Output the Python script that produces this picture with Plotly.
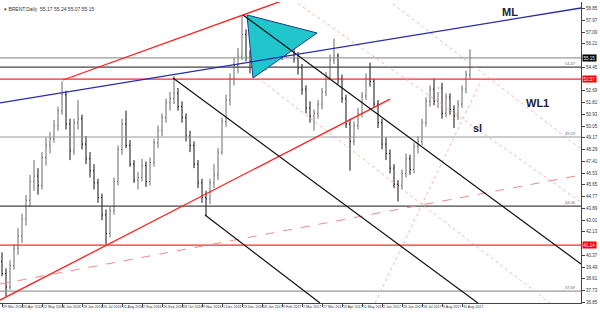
import plotly.graph_objects as go

# ---------------- data ----------------
opens = [39.9,39.0,38.0,39.6,40.9,41.8,43.1,44.5,45.9,46.3,45.6,47.7,48.6,49.1,50.1,51.2,52.4,50.2,48.2,50.3,
         50.6,48.7,47.6,46.7,45.8,44.7,43.4,42.0,43.7,45.9,48.3,50.2,48.6,47.2,46.0,46.2,47.1,45.9,47.3,48.8,
         49.7,50.7,51.8,52.1,52.5,51.5,50.7,49.3,48.6,47.2,45.8,44.7,44.6,45.8,46.4,48.1,50.4,52.0,53.6,54.6,
         55.3,56.9,55.2,54.9,55.9,56.1,55.0,55.4,56.4,55.4,56.6,55.5,56.2,56.0,55.1,54.4,52.8,51.4,50.8,51.0,
         51.7,52.6,53.8,55.0,55.3,53.6,52.1,50.2,48.9,50.1,51.0,52.3,53.6,53.4,51.7,50.3,48.7,48.0,46.9,45.7,
         45.6,46.5,47.6,46.8,48.5,48.9,50.3,51.9,52.8,51.9,52.9,51.0,52.2,51.3,50.8,51.7,52.8,53.9]
highs = [40.6,39.4,40.0,41.2,42.4,43.5,44.9,46.4,47.5,46.9,48.1,49.2,49.6,50.5,51.5,53.4,52.7,50.6,50.6,52.0,
         50.9,49.3,48.1,47.2,46.1,45.0,43.8,44.0,46.2,48.6,50.6,51.2,49.0,47.5,46.6,47.6,47.4,47.7,49.1,50.1,
         51.0,52.1,52.6,53.8,52.9,51.9,51.0,49.7,48.9,47.5,46.1,45.2,46.1,47.2,48.4,50.7,52.4,54.0,55.2,55.9,
         58.3,57.3,55.7,56.3,56.9,56.4,55.8,56.9,56.7,57.1,56.9,56.6,57.2,56.3,55.6,54.7,53.1,51.9,51.3,52.0,
         52.9,54.1,55.4,56.6,55.5,53.9,52.4,50.6,50.4,51.4,52.6,54.0,54.8,53.6,52.0,50.6,49.2,48.3,47.2,46.0,
         46.8,48.0,47.9,48.8,49.3,50.6,52.2,53.1,53.6,52.6,53.3,52.5,52.5,51.6,52.0,53.1,54.2,55.8]
lows = [38.8,37.3,37.8,39.3,40.4,41.3,42.6,44.0,45.2,44.9,45.3,47.1,48.0,48.8,49.7,50.9,49.8,47.5,47.9,49.8,
        48.3,47.2,46.2,45.3,44.3,43.0,41.2,41.7,43.4,45.6,47.9,48.4,47.0,45.8,45.3,45.9,45.5,45.6,47.0,48.4,
        49.3,50.3,51.2,51.7,51.2,50.3,48.9,48.1,46.9,45.4,44.3,43.3,44.2,45.4,46.0,47.9,50.0,51.6,53.1,54.0,
        55.0,54.9,54.0,54.6,55.4,54.7,54.2,55.1,55.0,55.2,55.0,55.2,55.8,54.8,53.9,52.4,51.0,50.3,49.7,50.6,
        51.3,52.3,53.5,54.7,53.2,51.8,49.9,46.7,48.6,49.8,50.7,52.0,53.0,51.4,49.9,48.3,47.5,46.5,45.4,44.4,
        45.3,46.2,46.4,46.5,48.0,48.6,50.0,51.5,51.6,51.4,50.6,50.7,50.9,49.9,50.5,51.4,52.5,53.6]
closes = [39.0,38.0,39.6,40.9,41.8,43.1,44.5,45.9,46.3,45.6,47.7,48.6,49.1,50.1,51.2,52.4,50.2,48.2,50.3,50.6,
          48.7,47.6,46.7,45.8,44.7,43.4,42.0,43.7,45.9,48.3,50.2,48.6,47.2,46.0,46.2,47.1,45.9,47.3,48.8,49.7,
          50.7,51.8,52.1,52.5,51.5,50.7,49.3,48.6,47.2,45.8,44.7,44.6,45.8,46.4,48.1,50.4,52.0,53.6,54.6,55.3,
          56.9,55.2,54.9,55.9,56.1,55.0,55.4,56.4,55.4,56.6,55.5,56.2,56.0,55.1,54.4,52.8,51.4,50.8,51.0,51.7,
          52.6,53.8,55.0,55.3,53.6,52.1,50.2,48.9,50.1,51.0,52.3,53.6,53.4,51.7,50.3,48.7,48.0,46.9,45.7,45.6,
          46.5,47.6,46.8,48.5,48.9,50.3,51.9,52.8,51.9,52.9,51.0,52.2,51.3,50.8,51.7,52.8,53.9,55.15]

date_labels = ["29 Mar 2016","20 Apr 2016","12 May 2016","6 Jun 2016","28 Jun 2016","20 Jul 2016",
               "11 Aug 2016","2 Sep 2016","26 Sep 2016","18 Oct 2016","9 Nov 2016","1 Dec 2016",
               "23 Dec 2016","18 Jan 2017","9 Feb 2017","2 Mar 2017","27 Mar 2017","19 Apr 2017",
               "11 May 2017","2 Jun 2017","26 Jun 2017","18 Jul 2017","9 Aug 2017","31 Aug 2017"]
date_tick_bars = [5 * k for k in range(len(date_labels))]

title_text = "BRENT,Daily  55.17 55.24 55.07 55.15"
current_price = 55.15

# horizontal levels
red_levels = [53.57, 41.14]
dark_levels = [54.47, 44.06]
gray_levels = [55.15, 49.23, 37.69]
level_tags = [(54.47, "54.47"), (49.23, "49.23"), (44.06, "44.06"), (37.69, "37.69")]

# trend lines: (bar0, price0, bar1, price1)
ml_line = (-0.5, 51.78, 144.75, 58.89)
red_trends = [(15.25, 53.50, 72.0, 59.64), (-0.5, 37.02, 97.0, 52.07)]
black_trends = [(60.25, 58.37, 144.75, 39.72), (42.75, 53.65, 120.0, 36.57), (50.75, 43.39, 79.5, 36.80)]
pink_dotted = [(96.5, 59.49, 144.75, 48.33), (72.75, 59.49, 144.75, 44.36), (64.0, 53.65, 137.0, 36.80),
               (93.25, 36.80, 119.5, 53.27)]
pink_dashed = [(-0.5, 38.22, 144.75, 46.38)]
triangle = [(61.25, 58.37), (78.75, 57.02), (62.75, 53.65)]

text_marks = [(127.0, 58.59, "ML"), (133.75, 51.78, "WL1"), (118.75, 49.90, "sl")]

# price-axis ticks
y_tick0, y_dtick, y_nticks = 36.85, 0.88, 26

# ---------------- figure ----------------
x = list(range(len(closes)))
fig = go.Figure()
fig.add_trace(go.Ohlc(x=x, open=opens, high=highs, low=lows, close=closes,
                      increasing=dict(line=dict(color="#6a6a6a", width=1)),
                      decreasing=dict(line=dict(color="#111111", width=1)),
                      tickwidth=0.25, hoverinfo="skip", showlegend=False))

def seg(t, color, width, dash="solid"):
    fig.add_shape(type="line", xref="x", yref="y", x0=t[0], y0=t[1], x1=t[2], y1=t[3],
                  line=dict(color=color, width=width, dash=dash), layer="above")

for lv in gray_levels:
    fig.add_shape(type="line", xref="paper", yref="y", x0=0, x1=1, y0=lv, y1=lv,
                  line=dict(color="#9a9a9a", width=1.2))
for lv in dark_levels:
    fig.add_shape(type="line", xref="paper", yref="y", x0=0, x1=1, y0=lv, y1=lv,
                  line=dict(color="#444444", width=1.2))
for lv in red_levels:
    fig.add_shape(type="line", xref="paper", yref="y", x0=0, x1=1, y0=lv, y1=lv,
                  line=dict(color="#ff2a2a", width=1.2))

for t in pink_dotted:
    seg(t, "#f4a0a0", 0.8, "dot")
for t in pink_dashed:
    seg(t, "#f08a8a", 1, "dash")

tri = triangle
path = f"M {tri[0][0]},{tri[0][1]} L {tri[1][0]},{tri[1][1]} L {tri[2][0]},{tri[2][1]} Z"
fig.add_shape(type="path", xref="x", yref="y", path=path, fillcolor="#20c6cc",
              line=dict(color="#1a3a8a", width=1), layer="above")

for t in red_trends:
    seg(t, "#ff2020", 1.3)
for t in black_trends:
    seg(t, "#111111", 1.2)
seg(ml_line, "#2a2aa8", 1.3)

for bx, py, txt in text_marks:
    fig.add_annotation(x=bx, y=py, xref="x", yref="y", text=f"<b>{txt}</b>", showarrow=False,
                       font=dict(family="Arial", size=11, color="#1c1c3c"))

for lv, txt in level_tags:
    fig.add_annotation(x=0.995, y=lv, xref="paper", yref="y", text=txt, showarrow=False,
                       xanchor="right", yanchor="bottom", yshift=-1,
                       font=dict(family="Arial", size=4, color="#666666"))

box_levels = [current_price] + red_levels
for lv, bg in zip(box_levels, ["#000000", "#ff0000", "#ff0000"]):
    fig.add_annotation(x=1.0, y=lv, xref="paper", yref="y", text=f"{lv:.2f}", showarrow=False,
                       xanchor="left", yanchor="middle", xshift=1, bgcolor=bg, borderpad=0.5,
                       font=dict(family="Arial", size=4.5, color="#ffffff"))

# tick values that are not hidden under a price box
yticks = [round(y_tick0 + k * y_dtick, 2) for k in range(y_nticks)]
yticks = [v for v in yticks if all(abs(v - b) > 0.5 for b in box_levels)]

fig.add_annotation(x=0.004, y=0.995, xref="paper", yref="paper", text="▾ " + title_text,
                   showarrow=False, xanchor="left", yanchor="top",
                   font=dict(family="Arial", size=5, color="#333333"))

fig.update_layout(
    width=600, height=313, margin=dict(l=0, r=19, t=2, b=10),
    paper_bgcolor="white", plot_bgcolor="white",
    xaxis=dict(range=[-0.5, 144.75], rangeslider=dict(visible=False), showgrid=False, zeroline=False,
               tickmode="array", tickvals=date_tick_bars, ticktext=date_labels, tickangle=0,
               ticks="outside", ticklen=3, tickcolor="#444", ticklabelposition="outside right",
               tickfont=dict(family="Arial", size=3.6, color="#333"),
               showline=True, linecolor="#444", linewidth=1),
    yaxis=dict(range=[36.80, 59.34], side="right", showgrid=False, zeroline=False,
               tickmode="array", tickvals=yticks, ticktext=[f"{v:.2f}" for v in yticks],
               ticks="outside", ticklen=3, tickcolor="#444",
               tickfont=dict(family="Arial", size=4.5, color="#333"),
               showline=True, linecolor="#444", linewidth=1),
)

fig.write_html("out.html")
